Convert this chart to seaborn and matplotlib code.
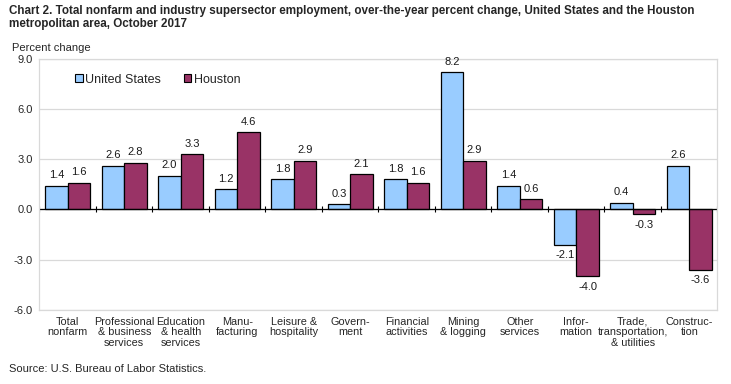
import matplotlib
matplotlib.use("Agg")
import matplotlib.pyplot as plt
import seaborn as sns
import pandas as pd

categories = ["Total\nnonfarm", "Professional\n& business\nservices", "Education\n& health\nservices",
              "Manu-\nfacturing", "Leisure &\nhospitality", "Govern-\nment", "Financial\nactivities",
              "Mining\n& logging", "Other\nservices", "Infor-\nmation",
              "Trade,\ntransportation,\n& utilities", "Construc-\ntion"]
us_values = [1.4, 2.6, 2.0, 1.2, 1.8, 0.3, 1.8, 8.2, 1.4, -2.1, 0.4, 2.6]
houston_values = [1.6, 2.8, 3.3, 4.6, 2.9, 2.1, 1.6, 2.9, 0.6, -4.0, -0.3, -3.6]
series = ["United States", "Houston"]

df = pd.DataFrame({
    "Category": categories * 2,
    "Series": [series[0]] * len(categories) + [series[1]] * len(categories),
    "Value": us_values + houston_values,
})

sns.set_style("white")
plt.rcParams["font.family"] = ["Liberation Sans", "DejaVu Sans"]

pal = {"United States": "#99CCFF", "Houston": "#993366"}

fig = plt.figure(figsize=(7.31, 3.84), dpi=100)
ax = fig.add_axes([0.054, 0.193, 0.9275, 0.654])

sns.barplot(data=df, x="Category", y="Value", hue="Series", palette=pal, width=0.8, saturation=1,
            edgecolor="black", linewidth=0.9, ax=ax, legend=False)

for cont in ax.containers:
    ax.bar_label(cont, fmt="%.1f", padding=4, fontsize=8, color="#1a1a1a")

ax.set_ylim(-6, 9)
ax.set_yticks([-6, -3, 0, 3, 6, 9])
ax.set_yticklabels(["-6.0", "-3.0", "0.0", "3.0", "6.0", "9.0"], fontsize=8)
ax.set_xlim(-0.5, len(categories) - 0.5)
ax.tick_params(axis="x", labelsize=7.8, length=0, pad=5)
ax.tick_params(axis="y", length=0, pad=5)
for lbl in ax.get_xticklabels():
    lbl.set_linespacing(1.05)
ax.set_xlabel("")
ax.set_ylabel("")
ax.grid(axis="y", color="#d9d9d9", linewidth=0.9)
ax.set_axisbelow(True)
ax.axhline(0, color="black", linewidth=0.9)
# small category separator ticks on the zero line
ax.vlines([k - 0.5 for k in range(len(categories) + 1)], -0.18, 0.18, color="black", linewidth=0.8)
for s in ax.spines.values():
    s.set_color("#d9d9d9")
    s.set_linewidth(0.9)

handles = [plt.Rectangle((0, 0), 1, 1, facecolor=pal[s], edgecolor="black", linewidth=0.8) for s in series]
ax.legend(handles, series, loc="upper left", bbox_to_anchor=(0.042, 0.97), ncol=2, frameon=False,
          fontsize=9, handlelength=0.6, handleheight=0.6, handletextpad=0.2, columnspacing=1.8,
          borderaxespad=0.2)

fig.text(0.012, 0.988, "Chart 2. Total nonfarm and industry supersector employment, over-the-year percent change, United States and the Houston\nmetropolitan area, October 2017",
         fontsize=8.4, fontweight="bold", va="top", ha="left", linespacing=1.2)
fig.text(0.016, 0.862, "Percent change", fontsize=8, va="bottom", ha="left")
fig.text(0.012, 0.025, "Source: U.S. Bureau of Labor Statistics.", fontsize=8, va="bottom", ha="left")

fig.savefig("out.png", dpi=100)
